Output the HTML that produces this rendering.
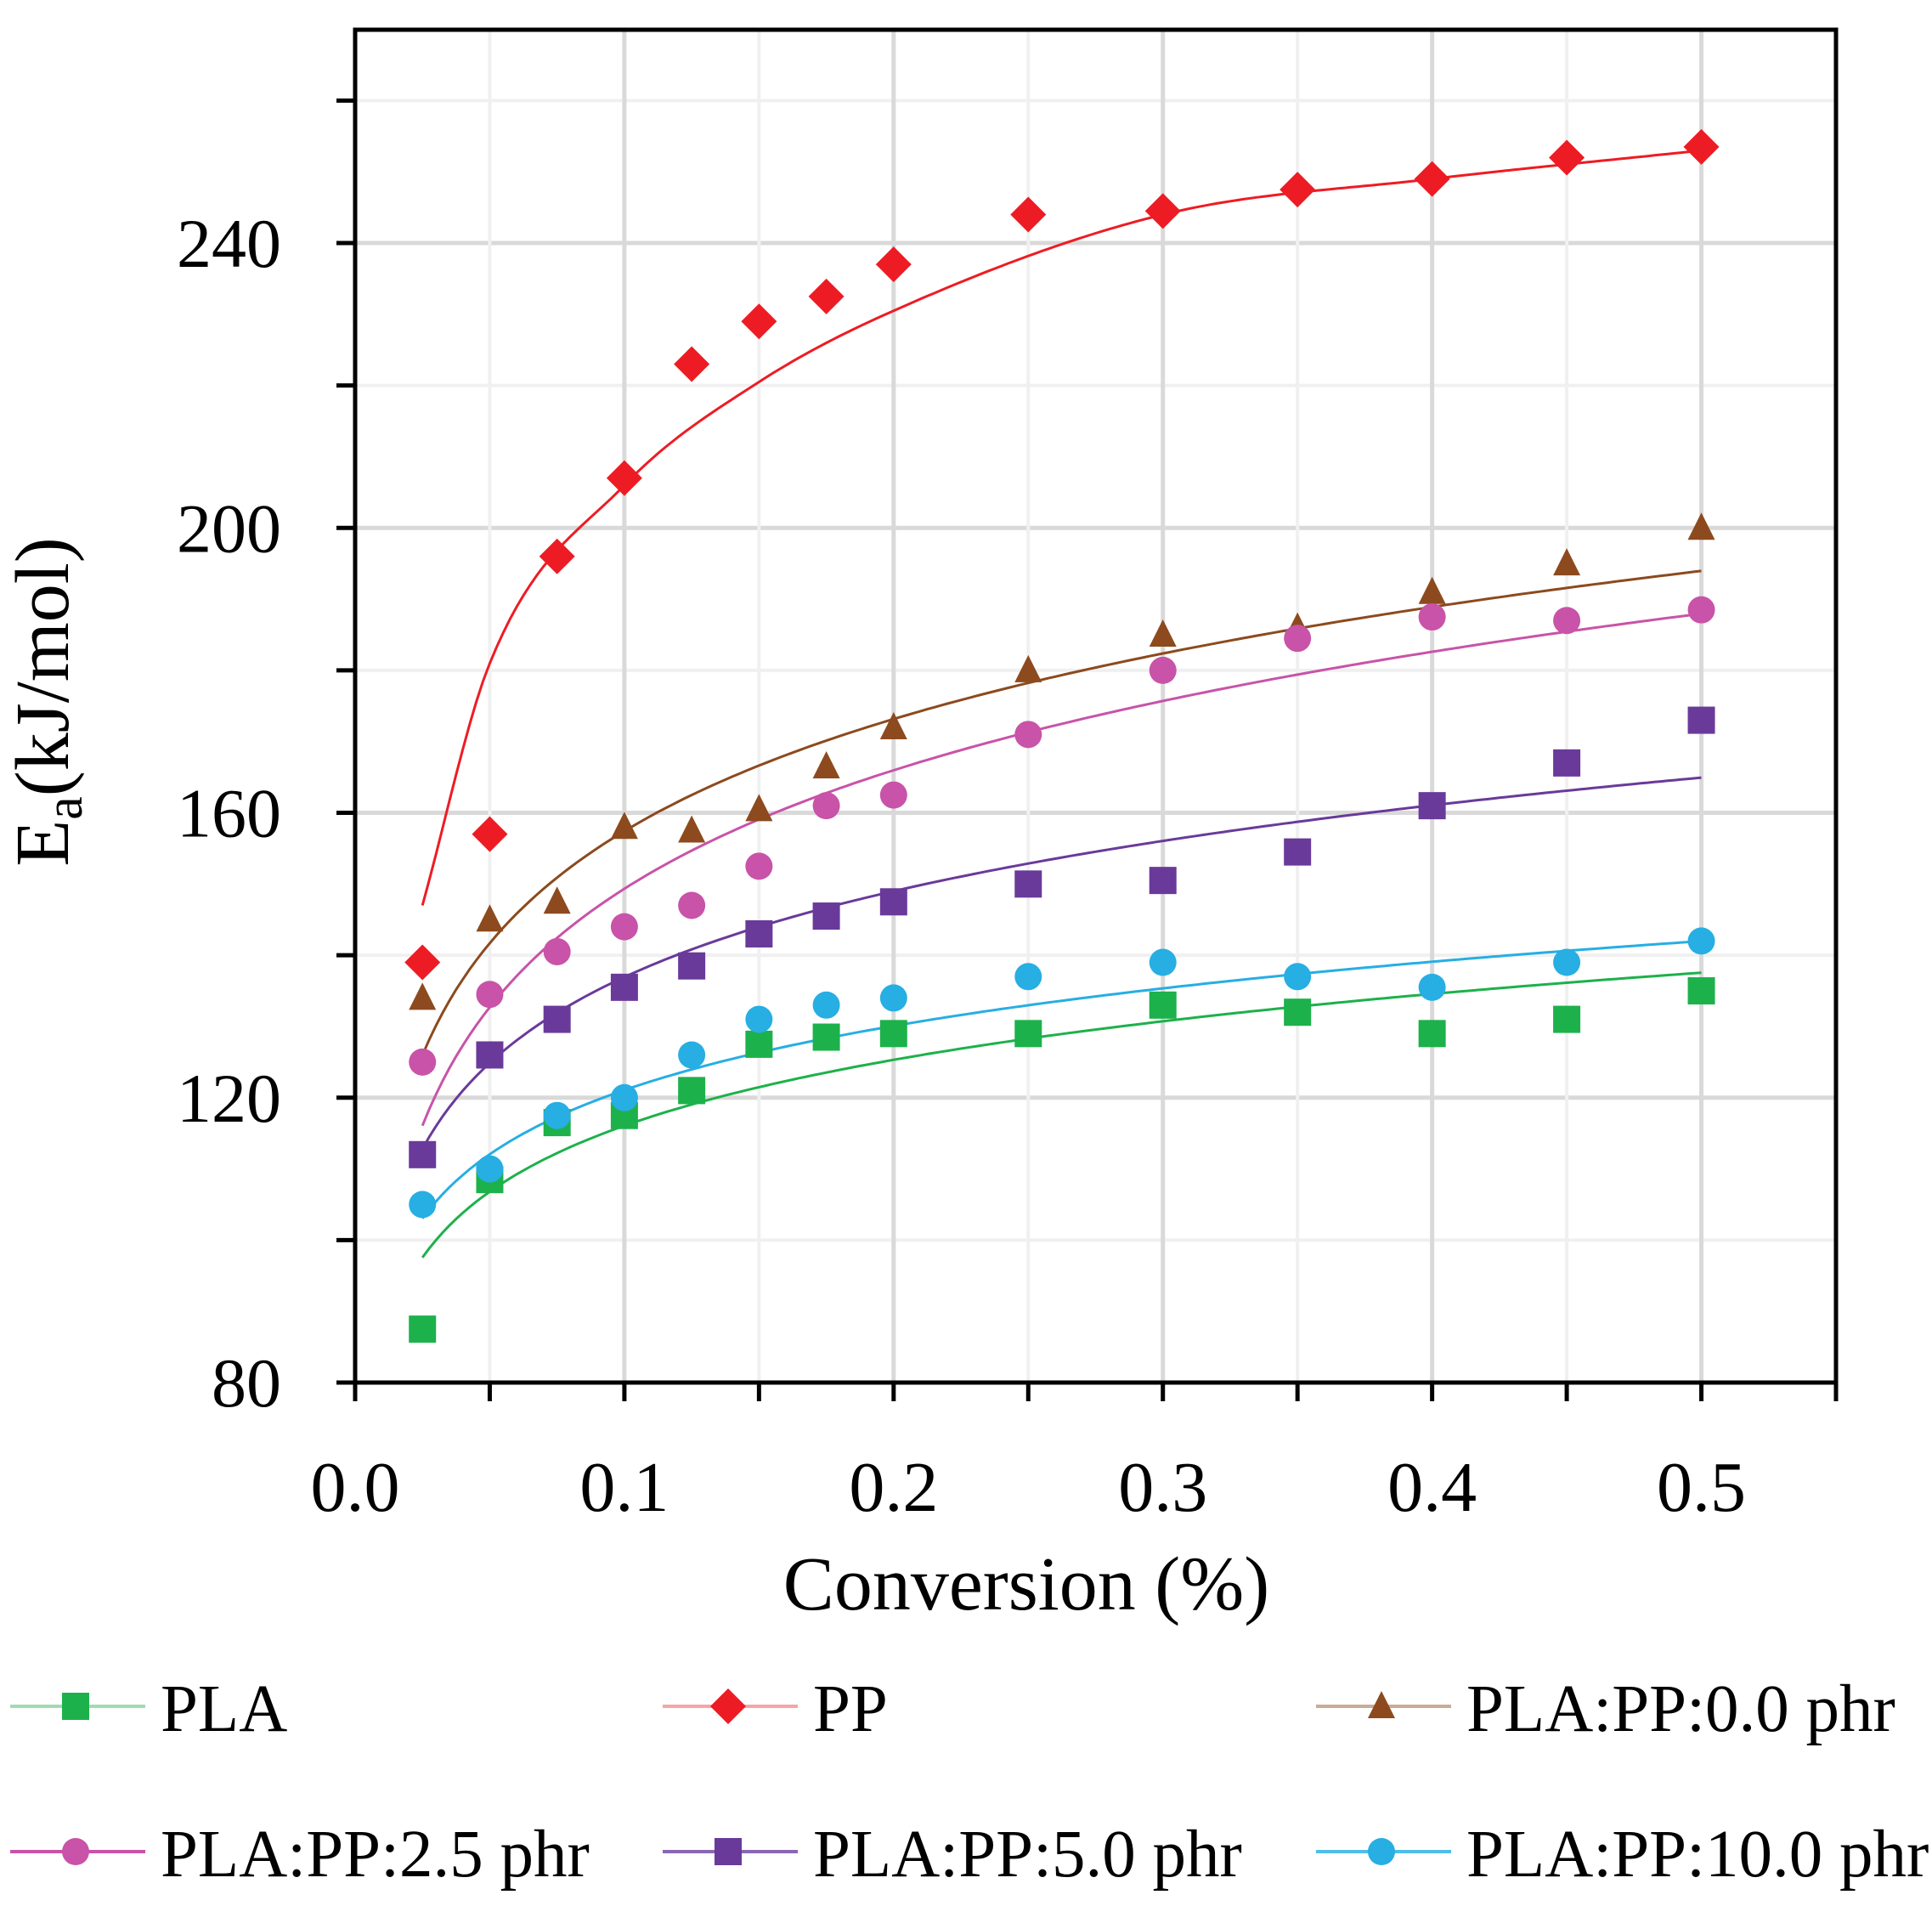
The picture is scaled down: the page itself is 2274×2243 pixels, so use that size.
<!DOCTYPE html>
<html><head><meta charset="utf-8"><style>
html,body{margin:0;padding:0;background:#fff;}
svg{display:block;font-family:"Liberation Serif",serif;}
</style></head><body>
<svg id="s" width="2274" height="2243" viewBox="0 0 2274 2243" xmlns="http://www.w3.org/2000/svg"></svg>
<script>
const s=document.getElementById('s');
const L=418,R=2161,T=35,B=1627;
const X=v=>L+v*(R-L)/0.55, Y=v=>B-(v-80)*8.381;
let h='';
for(let v=100;v<=260;v+=20){const maj=(v%40==0);h+=`<line x1="${L}" x2="${R}" y1="${Y(v)}" y2="${Y(v)}" stroke="${maj?'#d9d9d9':'#f0f0f0'}" stroke-width="${maj?5:4}"/>`;}
for(let i=1;i<=10;i++){const v=i*0.05;const maj=(i%2==0);h+=`<line y1="${T}" y2="${B}" x1="${X(v)}" x2="${X(v)}" stroke="${maj?'#d9d9d9':'#f0f0f0'}" stroke-width="${maj?5:4}"/>`;}
h+=`<rect x="${L}" y="${T}" width="${R-L}" height="${B-T}" fill="none" stroke="#000" stroke-width="5"/>`;
for(let v=80;v<=260;v+=20)h+=`<line x1="${L-22}" x2="${L}" y1="${Y(v)}" y2="${Y(v)}" stroke="#000" stroke-width="5"/>`;
for(let i=0;i<=11;i++)h+=`<line y1="${B}" y2="${B+22}" x1="${X(i*0.05)}" x2="${X(i*0.05)}" stroke="#000" stroke-width="5"/>`;
for(let v=80;v<=240;v+=40)h+=`<text x="331" y="${Y(v)+28}" font-size="82" text-anchor="end">${v}</text>`;
for(let i=0;i<=5;i++)h+=`<text x="${X(i*0.1)}" y="1778" font-size="84" text-anchor="middle">${(i*0.1).toFixed(1)}</text>`;
h+=`<text x="1208" y="1894" font-size="90" text-anchor="middle">Conversion (%)</text>`;
h+=`<text transform="translate(80,826) rotate(-90)" font-size="90" text-anchor="middle">E<tspan font-size="62" dy="16">a</tspan><tspan dy="-16">(kJ/mol)</tspan></text>`;
const xs=[0.025,0.05,0.075,0.1,0.125,0.15,0.175,0.2,0.25,0.3,0.35,0.4,0.45,0.5];
const S=[
 {c:'#1db14b',lc:'#9fdcb1',m:'sq',a:146.8,b:13.35,d:[87.5,108.5,116.5,117.5,121,127.5,128.5,129,129,133,132,129,131,135]},
 {c:'#ed1c24',lc:'#f7a5a8',m:'di',curve:[[0.025,147],[0.05,181],[0.1,206],[0.15,220.5],[0.2,230.5],[0.3,244],[0.4,249],[0.5,253]],d:[139,157,196,207,223,229,232.5,237,244,244.5,247.5,249,252,253.5]},
 {c:'#8c4a1e',lc:'#c9ab98',m:'tr',a:209.7,b:22.7,d:[134,145,147.5,158,157.5,160.5,166.5,172,180,185,186,191,195,200]},
 {c:'#c853a8',lc:'#c853a8',m:'ci',a:204.6,b:24,d:[125,134.5,140.5,144,147,152.5,161,162.5,171,180,184.5,187.5,187,188.5]},
 {c:'#6a3a9a',lc:'#8a66b4',m:'sq',a:177,b:17.4,d:[112,126,131,135.5,138.5,143,145.5,147.5,150,150.5,154.5,161,167,173]},
 {c:'#27aee3',lc:'#4fbde9',m:'ci',a:151,b:13,d:[105,110,117.5,120,126,131,133,134,137,139,137,135.5,139,142]}
];
function mk(t,x,y,c){
 if(t=='sq')return `<rect x="${x-16}" y="${y-16}" width="32" height="32" fill="${c}"/>`;
 if(t=='di')return `<polygon points="${x},${y-21} ${x+21},${y} ${x},${y+21} ${x-21},${y}" fill="${c}"/>`;
 if(t=='tr')return `<polygon points="${x},${y-18} ${x+16},${y+14} ${x-16},${y+14}" fill="${c}"/>`;
 return `<circle cx="${x}" cy="${y}" r="16" fill="${c}"/>`;
}
// monotone cubic interpolation in data space
function mono(P,v){
 const n=P.length;let i=0;while(i<n-2&&v>P[i+1][0])i++;
 const d=[];for(let k=0;k<n-1;k++)d.push((P[k+1][1]-P[k][1])/(P[k+1][0]-P[k][0]));
 const m=[d[0]];for(let k=1;k<n-1;k++)m.push((d[k-1]+d[k])/2);m.push(d[n-2]);
 const hh=P[i+1][0]-P[i][0],t=(v-P[i][0])/hh;
 const h00=2*t*t*t-3*t*t+1,h10=t*t*t-2*t*t+t,h01=-2*t*t*t+3*t*t,h11=t*t*t-t*t;
 return h00*P[i][1]+h10*hh*m[i]+h01*P[i+1][1]+h11*hh*m[i+1];
}
S.forEach(o=>{
 let pts=[];
 for(let v=0.025;v<=0.5001;v+=0.0025){const y=o.curve?mono(o.curve,v):o.a+o.b*Math.log(v);pts.push([X(v),Y(y)]);}
 h+=`<path d="M${pts.map(p=>p[0].toFixed(1)+','+p[1].toFixed(1)).join('L')}" fill="none" stroke="${o.c}" stroke-width="3"/>`;
});
S.forEach(o=>{o.d.forEach((v,i)=>h+=mk(o.m,X(xs[i]),Y(v),o.c));});
const names=['PLA','PP','PLA:PP:0.0 phr','PLA:PP:2.5 phr','PLA:PP:5.0 phr','PLA:PP:10.0 phr'];
const cols=[12,780,1549],rows=[2008,2179];
S.forEach((o,i)=>{const x=cols[i%3],y=rows[Math.floor(i/3)];
 h+=`<line x1="${x}" x2="${x+159}" y1="${y}" y2="${y}" stroke="${o.lc}" stroke-width="4"/>`;
 h+=mk(o.m,x+77,y,o.c);
 h+=`<text x="${x+177}" y="${y+29}" font-size="79">${names[i]}</text>`;});
s.innerHTML=h;
</script>
</body></html>
